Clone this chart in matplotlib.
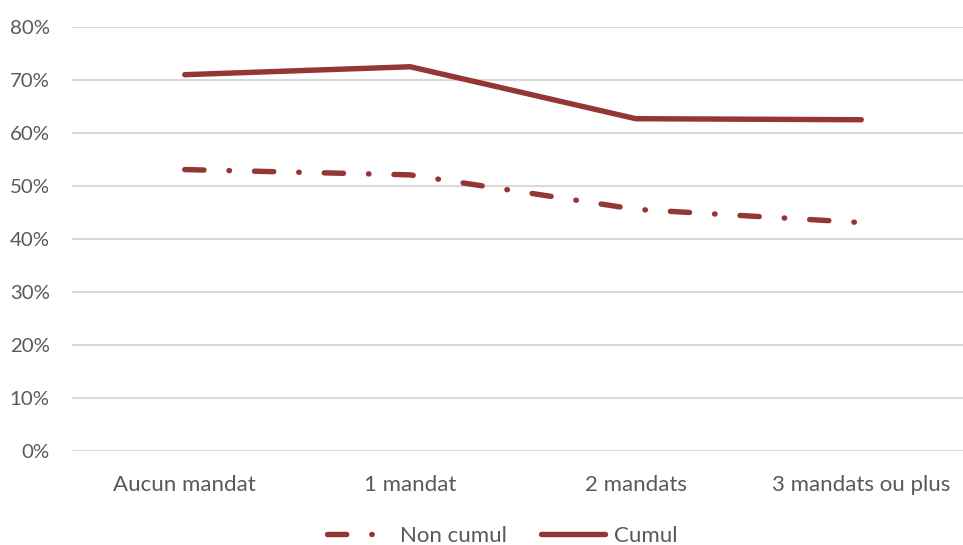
import matplotlib
matplotlib.use("Agg")
import matplotlib.pyplot as plt
from matplotlib.ticker import FuncFormatter

categories = ["Aucun mandat", "1 mandat", "2 mandats", "3 mandats ou plus"]
non_cumul = [0.531, 0.521, 0.456, 0.431]
cumul = [0.710, 0.725, 0.627, 0.625]
yticks = [0.0, 0.1, 0.2, 0.3, 0.4, 0.5, 0.6, 0.7, 0.8]

RED = "#943634"
GRAY = "#595959"
GRID = "#D9D9D9"

plt.rcParams['font.family'] = ['Lato', 'DejaVu Sans']

fig = plt.figure(figsize=(9.63, 5.45), dpi=100)
W, H = 963, 545
left, right, top, bottom = 72, 974, 27, 451
ax = fig.add_axes([left / W, 1 - bottom / H, (right - left) / W, (bottom - top) / H])

x = list(range(len(categories)))
l1, = ax.plot(x, non_cumul, color=RED, lw=3.9, label="Non cumul",
              dashes=[3.55, 4.62, 0.09, 4.62], solid_capstyle='round')
l1.set_dash_capstyle('round')
l2, = ax.plot(x, cumul, color=RED, lw=3.9, label="Cumul", solid_capstyle='round')

ax.set_xlim(-0.5, len(categories) - 0.5)
ax.set_ylim(0, 0.8)
ax.set_yticks(yticks)
ax.yaxis.set_major_formatter(FuncFormatter(lambda v, p: f"{v*100:.0f}%"))
ax.set_xticks(x)
ax.set_xticklabels(categories)
ax.grid(axis='y', color=GRID, lw=1.5)
ax.set_axisbelow(True)
for s in ax.spines.values():
    s.set_visible(False)
ax.tick_params(axis='both', length=0, labelcolor=GRAY)
ax.tick_params(axis='x', pad=17, labelsize=16)
ax.tick_params(axis='y', pad=16, labelsize=14.7)

leg = fig.legend(handles=[l1, l2], loc='center', bbox_to_anchor=(502 / W, 1 - 536 / H),
                 ncol=2, frameon=False, fontsize=16, handlelength=2.9,
                 columnspacing=1.52, handletextpad=0.4, labelcolor=GRAY)

fig.savefig("out.png", dpi=100)
